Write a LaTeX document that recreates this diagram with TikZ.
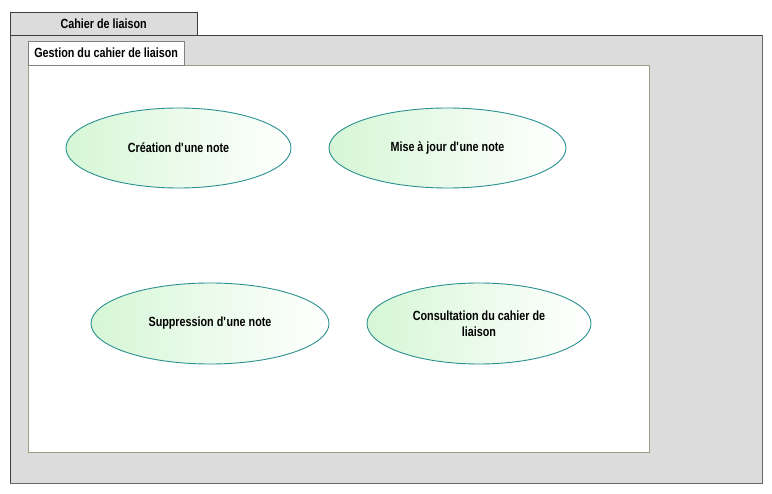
\documentclass[tikz,border=0pt]{standalone}
\usepackage{fontspec}
\setmainfont{Liberation Sans}
\newfontfamily\umlfont[FakeStretch=0.81]{Liberation Sans}
\usetikzlibrary{positioning, shapes.geometric}
\definecolor{panelgray}{HTML}{DCDCDC}
\definecolor{framekhaki}{HTML}{A39E82}
\definecolor{caseteal}{HTML}{2A9090}
\definecolor{casegreen}{HTML}{D6F6D6}

\begin{document}
\begin{tikzpicture}[
      x=1pt, y=-1pt,
      usecase/.style={
        ellipse, draw=caseteal, line width=0.9pt,
        left color=casegreen, right color=white,
        align=center, font=\umlfont\bfseries\fontsize{13.3}{16}\selectfont, inner sep=0pt
      },
      tab/.style={
        rectangle, draw, anchor=south west, inner sep=0pt,
        font=\umlfont\bfseries\fontsize{13.3}{14}\selectfont
      }
    ]
    \useasboundingbox[fill=white] (0,0) rectangle (772,494);

    % outer package
    \draw[fill=panelgray, draw=black!75] (10,35) rectangle (762,483);
    \draw[black!60, line width=1.2pt] (762.5,35) -- (762.5,483.5) -- (10,483.5);
    \node[tab, fill=panelgray, draw=black!75, minimum width=187pt, minimum height=23pt] (pkgouter) at (10,35) {Cahier de liaison};

    % inner package
    \draw[fill=white, draw=framekhaki] (28,65) rectangle (649,452);
    \node[tab, fill=white, draw=black!50, minimum width=156pt, minimum height=24pt] (pkginner) at (28,65) {Gestion du cahier de liaison};

    % use cases
    \node[usecase, minimum width=225pt, minimum height=80pt] (creation)     at (178.5,148) {Création d\textquotesingle une note};
    \node[usecase, minimum width=237pt, minimum height=80pt] (miseajour)    at (447.5,148) {Mise à jour d\textquotesingle une note};
    \node[usecase, minimum width=238pt, minimum height=81pt] (suppression)  at (210,323.5) {Suppression d\textquotesingle une note};
    \node[usecase, minimum width=224pt, minimum height=81pt] (consultation) at (479,323.5) {Consultation du cahier de\\liaison};
  \end{tikzpicture}
\end{document}
